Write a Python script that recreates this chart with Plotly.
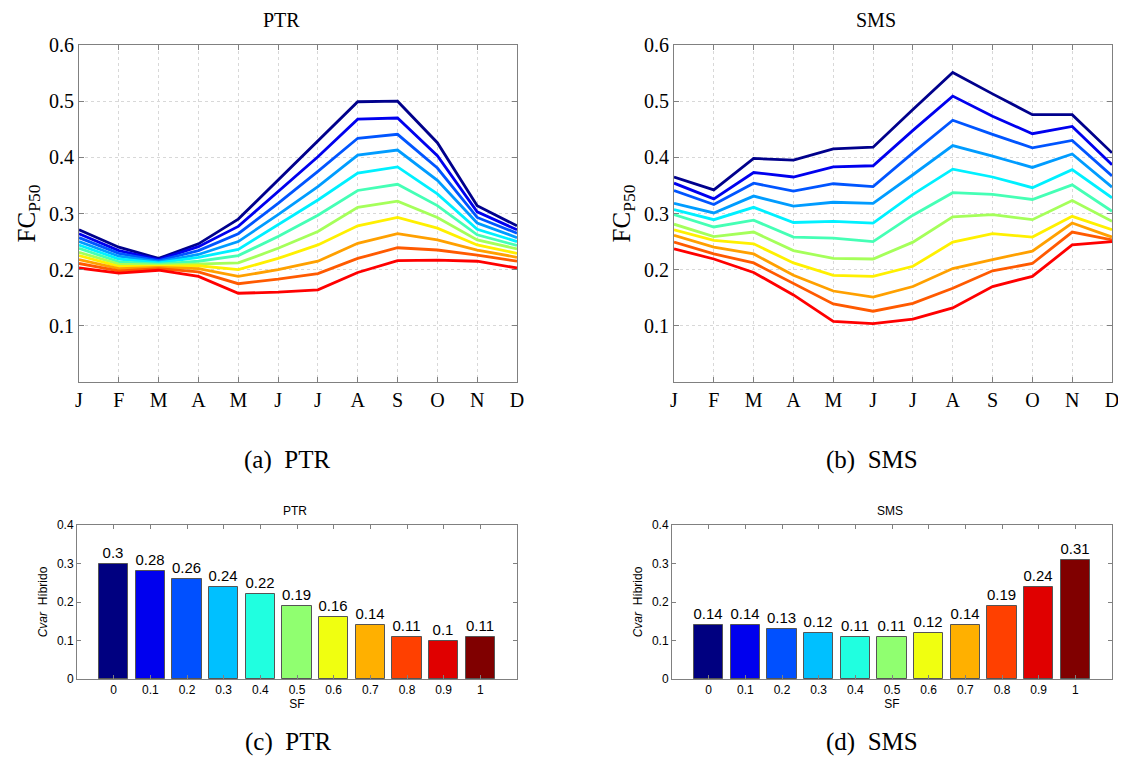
import plotly.graph_objects as go

# ---------------- data ----------------
month_names = ["Jan", "Feb", "Mar", "Apr", "May", "Jun", "Jul", "Aug", "Sep", "Oct", "Nov", "Dec"]
month_letters = ["J", "F", "M", "A", "M", "J", "J", "A", "S", "O", "N", "D"]

sf_values = [0, 0.1, 0.2, 0.3, 0.4, 0.5, 0.6, 0.7, 0.8, 0.9, 1]
sf_labels = ["0", "0.1", "0.2", "0.3", "0.4", "0.5", "0.6", "0.7", "0.8", "0.9", "1"]

# PTR monthly FC_P50 per SF (0 -> 1)
ptr_sf00 = [0.271, 0.240, 0.220, 0.246, 0.290, 0.360, 0.429, 0.499, 0.500, 0.426, 0.314, 0.278]
ptr_sf01 = [0.264, 0.234, 0.218, 0.241, 0.277, 0.339, 0.401, 0.468, 0.470, 0.403, 0.303, 0.271]
ptr_sf02 = [0.257, 0.229, 0.216, 0.234, 0.264, 0.318, 0.375, 0.434, 0.441, 0.381, 0.293, 0.265]
ptr_sf03 = [0.250, 0.224, 0.214, 0.227, 0.250, 0.298, 0.348, 0.404, 0.413, 0.359, 0.283, 0.257]
ptr_sf04 = [0.244, 0.219, 0.212, 0.222, 0.236, 0.280, 0.324, 0.372, 0.383, 0.335, 0.272, 0.250]
ptr_sf05 = [0.238, 0.214, 0.210, 0.215, 0.225, 0.259, 0.297, 0.341, 0.352, 0.314, 0.262, 0.243]
ptr_sf06 = [0.231, 0.210, 0.208, 0.210, 0.212, 0.238, 0.268, 0.311, 0.322, 0.293, 0.253, 0.237]
ptr_sf07 = [0.225, 0.206, 0.206, 0.207, 0.200, 0.220, 0.244, 0.278, 0.293, 0.274, 0.244, 0.229]
ptr_sf08 = [0.218, 0.202, 0.204, 0.202, 0.188, 0.200, 0.215, 0.247, 0.264, 0.253, 0.235, 0.222]
ptr_sf09 = [0.211, 0.198, 0.202, 0.196, 0.175, 0.183, 0.193, 0.220, 0.239, 0.235, 0.226, 0.215]
ptr_sf10 = [0.203, 0.194, 0.199, 0.188, 0.158, 0.160, 0.164, 0.195, 0.216, 0.217, 0.215, 0.203]

# SMS monthly FC_P50 per SF (0 -> 1)
sms_sf00 = [0.365, 0.342, 0.398, 0.395, 0.415, 0.418, 0.485, 0.551, 0.513, 0.476, 0.476, 0.408]
sms_sf01 = [0.354, 0.326, 0.373, 0.365, 0.383, 0.385, 0.448, 0.509, 0.473, 0.442, 0.455, 0.387]
sms_sf02 = [0.341, 0.316, 0.354, 0.340, 0.353, 0.348, 0.408, 0.466, 0.441, 0.417, 0.430, 0.367]
sms_sf03 = [0.318, 0.301, 0.331, 0.313, 0.320, 0.318, 0.369, 0.421, 0.402, 0.382, 0.406, 0.347]
sms_sf04 = [0.307, 0.289, 0.311, 0.284, 0.286, 0.283, 0.334, 0.379, 0.365, 0.346, 0.378, 0.328]
sms_sf05 = [0.298, 0.276, 0.288, 0.258, 0.256, 0.250, 0.297, 0.337, 0.334, 0.325, 0.351, 0.304]
sms_sf06 = [0.281, 0.259, 0.267, 0.234, 0.220, 0.219, 0.249, 0.294, 0.298, 0.289, 0.323, 0.286]
sms_sf07 = [0.271, 0.252, 0.246, 0.212, 0.190, 0.188, 0.206, 0.249, 0.264, 0.258, 0.295, 0.271]
sms_sf08 = [0.261, 0.240, 0.228, 0.190, 0.162, 0.151, 0.170, 0.202, 0.218, 0.233, 0.283, 0.258]
sms_sf09 = [0.249, 0.228, 0.212, 0.175, 0.139, 0.126, 0.140, 0.167, 0.198, 0.211, 0.267, 0.253]
sms_sf10 = [0.237, 0.219, 0.195, 0.155, 0.108, 0.104, 0.112, 0.132, 0.170, 0.188, 0.244, 0.250]

# Cvar Hibrido per SF
ptr_cvar = [0.30, 0.28, 0.26, 0.24, 0.22, 0.19, 0.16, 0.14, 0.11, 0.10, 0.11]
sms_cvar = [0.14, 0.14, 0.13, 0.12, 0.11, 0.11, 0.12, 0.14, 0.19, 0.24, 0.31]
ptr_cvar_text = ["0.3", "0.28", "0.26", "0.24", "0.22", "0.19", "0.16", "0.14", "0.11", "0.1", "0.11"]
sms_cvar_text = ["0.14", "0.14", "0.13", "0.12", "0.11", "0.11", "0.12", "0.14", "0.19", "0.24", "0.31"]

ptr_series = [ptr_sf00, ptr_sf01, ptr_sf02, ptr_sf03, ptr_sf04, ptr_sf05,
              ptr_sf06, ptr_sf07, ptr_sf08, ptr_sf09, ptr_sf10]
sms_series = [sms_sf00, sms_sf01, sms_sf02, sms_sf03, sms_sf04, sms_sf05,
              sms_sf06, sms_sf07, sms_sf08, sms_sf09, sms_sf10]

# ---------------- styles ----------------
line_colors = ["#00008C", "#0000EE", "#0055FF", "#009CFF", "#00F0FF", "#45FFB5",
               "#A5FF5A", "#FFF000", "#FFA000", "#FF5A00", "#FF0000"]
bar_colors = ["#000080", "#0000EE", "#0050FF", "#00C0FF", "#20FFE0", "#90FF70",
              "#F0FF10", "#FFB000", "#FF4000", "#E00000", "#800000"]

# page has an 8px body margin: the figure is drawn at (8, 8)
OFF = 8
W, H = 1126 - OFF, 763 - OFF
SERIF = "Liberation Serif, Times New Roman, serif"
SANS = "Liberation Sans, Arial, sans-serif"
AXIS_GRAY = "#808080"


def px_x(a, b):
    return [(a - OFF) / W, (b - OFF) / W]


def px_y(top, bottom):
    return [1 - (bottom - OFF) / H, 1 - (top - OFF) / H]


fig = go.Figure()

for i in range(11):
    fig.add_trace(go.Scatter(x=month_names, y=ptr_series[i], mode="lines",
                             line=dict(color=line_colors[i], width=2.8),
                             xaxis="x", yaxis="y", showlegend=False))
    fig.add_trace(go.Scatter(x=month_names, y=sms_series[i], mode="lines",
                             line=dict(color=line_colors[i], width=2.8),
                             xaxis="x2", yaxis="y2", showlegend=False))

fig.add_trace(go.Bar(x=sf_values, y=ptr_cvar, width=0.08, marker=dict(color=bar_colors, line=dict(color="#555555", width=1)),
                     text=ptr_cvar_text, textposition="outside", cliponaxis=False,
                     textfont=dict(family=SANS, size=15, color="black"),
                     xaxis="x3", yaxis="y3", showlegend=False))
fig.add_trace(go.Bar(x=sf_values, y=sms_cvar, width=0.08, marker=dict(color=bar_colors, line=dict(color="#555555", width=1)),
                     text=sms_cvar_text, textposition="outside", cliponaxis=False,
                     textfont=dict(family=SANS, size=15, color="black"),
                     xaxis="x4", yaxis="y4", showlegend=False))

top_x = dict(type="category", categoryorder="array", categoryarray=month_names,
             tickvals=month_names, ticktext=month_letters, range=[0, 11], automargin=False,
             showline=True, linecolor=AXIS_GRAY, linewidth=1, mirror="ticks",
             ticks="inside", ticklen=5, tickcolor=AXIS_GRAY,
             showgrid=True, gridcolor="#d8d8d8", griddash="dot", gridwidth=1,
             tickfont=dict(family=SERIF, size=20, color="black"), zeroline=False)
top_y = dict(range=[0, 0.6], tickvals=[0.1, 0.2, 0.3, 0.4, 0.5, 0.6], automargin=False,
             ticktext=["0.1", "0.2", "0.3", "0.4", "0.5", "0.6"],
             showline=True, linecolor=AXIS_GRAY, linewidth=1, mirror="ticks",
             ticks="inside", ticklen=5, tickcolor=AXIS_GRAY,
             showgrid=True, gridcolor="#d8d8d8", griddash="dot", gridwidth=1,
             tickfont=dict(family=SERIF, size=20, color="black"), zeroline=False,
             title=dict(text="FC<sub>P50</sub>", font=dict(family=SERIF, size=25, color="black"), standoff=6))
bot_x = dict(range=[-0.1, 1.1], tickvals=sf_values, ticktext=sf_labels, automargin=False,
             showline=True, linecolor=AXIS_GRAY, linewidth=1, mirror="ticks",
             ticks="inside", ticklen=4, tickcolor=AXIS_GRAY, showgrid=False, zeroline=False,
             tickfont=dict(family=SANS, size=12, color="black"),
             title=dict(text="SF", font=dict(family=SANS, size=12, color="black"), standoff=2))
bot_y = dict(range=[0, 0.4], tickvals=[0, 0.1, 0.2, 0.3, 0.4], automargin=False,
             ticktext=["0", "0.1", "0.2", "0.3", "0.4"],
             showline=True, linecolor=AXIS_GRAY, linewidth=1, mirror="ticks",
             ticks="inside", ticklen=4, tickcolor=AXIS_GRAY, showgrid=False, zeroline=False,
             tickfont=dict(family=SANS, size=12, color="black"),
             title=dict(text="<i>Cvar</i>  Híbrido", font=dict(family=SANS, size=12, color="black"), standoff=6))

fig.update_layout(
    width=W, height=H, margin=dict(l=0, r=0, t=0, b=0, autoexpand=False),
    paper_bgcolor="white", plot_bgcolor="white", bargap=0,
    xaxis=dict(top_x, domain=px_x(79, 517), anchor="y"),
    yaxis=dict(top_y, domain=px_y(45, 382), anchor="x"),
    xaxis2=dict(top_x, domain=px_x(674, 1112), anchor="y2"),
    yaxis2=dict(top_y, domain=px_y(45, 382), anchor="x2"),
    xaxis3=dict(bot_x, domain=px_x(77, 517), anchor="y3"),
    yaxis3=dict(bot_y, domain=px_y(525, 679), anchor="x3"),
    xaxis4=dict(bot_x, domain=px_x(672, 1112), anchor="y4"),
    yaxis4=dict(bot_y, domain=px_y(525, 679), anchor="x4"),
)

annos = [
    ("PTR", 281, 20, SERIF, 20),
    ("SMS", 876, 20, SERIF, 20),
    ("(a)  PTR", 287, 460, SERIF, 25),
    ("(b)  SMS", 872, 460, SERIF, 25),
    ("PTR", 295, 511, SANS, 12),
    ("SMS", 890, 511, SANS, 12),
    ("(c)  PTR", 288, 742, SERIF, 25),
    ("(d)  SMS", 872, 742, SERIF, 25),
]
for text, x, y, fam, size in annos:
    fig.add_annotation(text=text, x=(x - OFF) / W, y=1 - (y - OFF) / H, xref="paper", yref="paper",
                       showarrow=False, xanchor="center", yanchor="middle",
                       font=dict(family=fam, size=size, color="black"))

fig.write_html("out.html")
